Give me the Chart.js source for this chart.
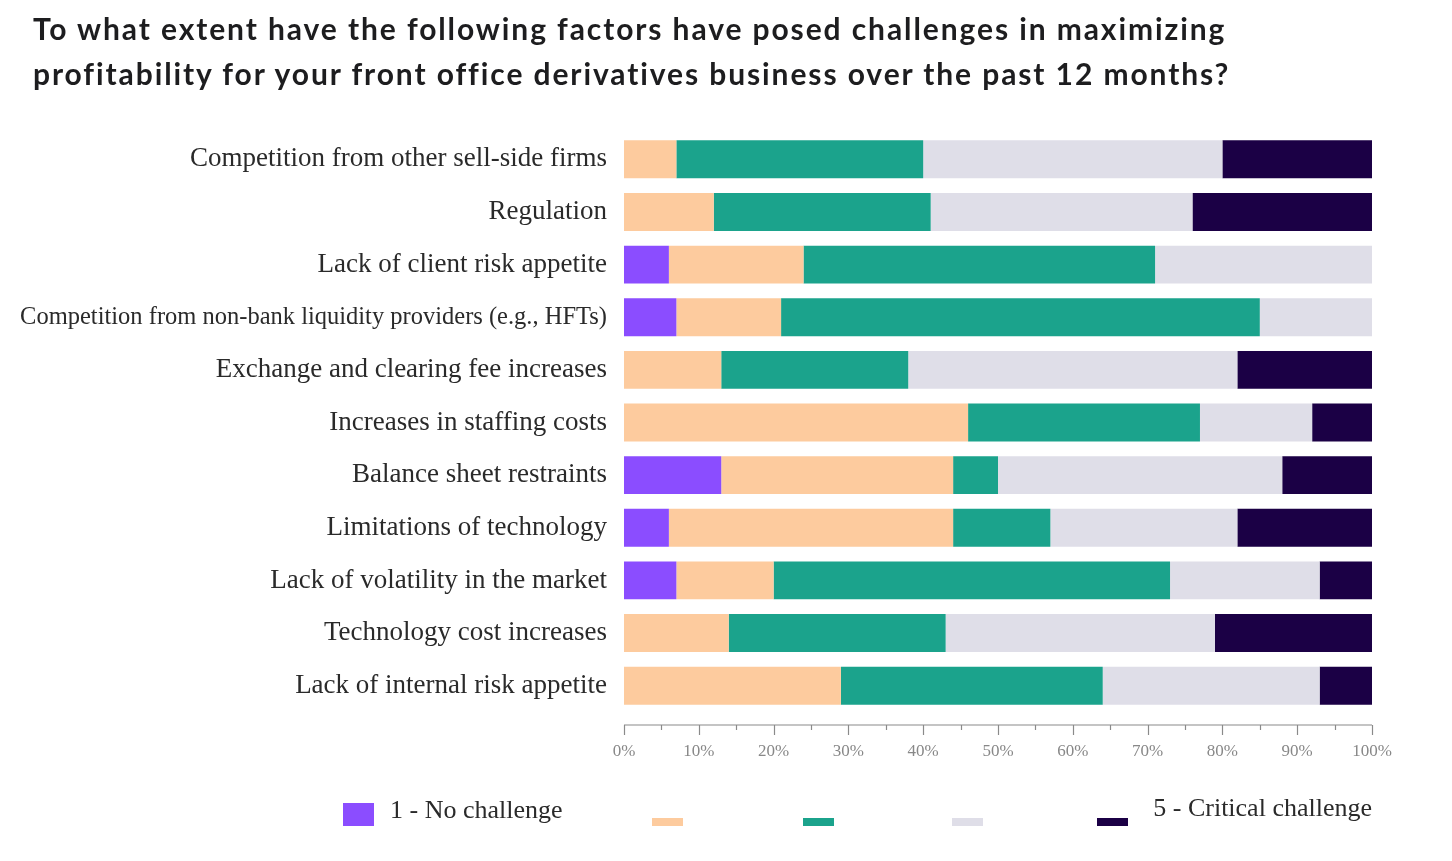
<!DOCTYPE html>
<html>
<head>
<meta charset="utf-8">
<script src="https://cdn.jsdelivr.net/npm/chart.js@4.4.1/dist/chart.umd.min.js"></script>
<style>
  html, body { margin:0; padding:0; background:#fff; }
  #wrap { position:relative; width:1452px; height:861px; overflow:hidden; }
  #title { position:absolute; left:33px; top:6px; font-family:"Lato", sans-serif; font-weight:700; font-size:30px; line-height:45px; color:#1d1d1f; letter-spacing:1.9px; white-space:nowrap; }
  #chartbox { position:absolute; left:0; top:0; width:1452px; height:861px; }
  .leg { position:absolute; font-family:"Liberation Serif", serif; font-size:26px; color:#2a2a2a; white-space:nowrap; }
  .box { position:absolute; }
</style>
</head>
<body>
<div id="wrap">
  <div id="chartbox"><canvas id="c"></canvas></div>
  <div id="title">To what extent have the following factors have posed challenges in maximizing<br>profitability for your front office derivatives business over the past 12 months?</div>
  <div id="legend"></div>
</div>
<script>
const categories = [
  "Competition from other sell-side firms",
  "Regulation",
  "Lack of client risk appetite",
  "Competition from non-bank liquidity providers (e.g., HFTs)",
  "Exchange and clearing fee increases",
  "Increases in staffing costs",
  "Balance sheet restraints",
  "Limitations of technology",
  "Lack of volatility in the market",
  "Technology cost increases",
  "Lack of internal risk appetite"
];
const seriesLabels = ["1 - No challenge", "2", "3", "4", "5 - Critical challenge"];
const noChallenge       = [0, 0, 6, 7, 0, 0, 13, 6, 7, 0, 0];
const minorChallenge    = [7, 12, 18, 14, 13, 46, 31, 38, 13, 14, 29];
const moderateChallenge = [33, 29, 47, 64, 25, 31, 6, 13, 53, 29, 35];
const majorChallenge    = [40, 35, 29, 15, 44, 15, 38, 25, 20, 36, 29];
const criticalChallenge = [20, 24, 0, 0, 18, 8, 12, 18, 7, 21, 7];
const xTicks = [0, 10, 20, 30, 40, 50, 60, 70, 80, 90, 100];
const colors = ["#8B4DFF", "#FDCB9E", "#1BA38C", "#DFDEE8", "#1B0045"];

const values = [noChallenge, minorChallenge, moderateChallenge, majorChallenge, criticalChallenge];
const datasets = values.map((v, i) => ({
  label: seriesLabels[i], data: v, backgroundColor: colors[i],
  borderWidth: 0, barPercentage: 0.72, categoryPercentage: 1.0
}));

const axisPlugin = {
  id: 'axisLine',
  afterDraw(chart) {
    const ctx = chart.ctx, xs = chart.scales.x, y = chart.chartArea.bottom + 13;
    ctx.save();
    ctx.strokeStyle = '#8a8a8a'; ctx.lineWidth = 1.2;
    ctx.beginPath(); ctx.moveTo(xs.getPixelForValue(0), y); ctx.lineTo(xs.getPixelForValue(100), y); ctx.stroke();
    for (let v = 0; v <= 100; v += 5) {
      const px = Math.round(xs.getPixelForValue(v)) + 0.5;
      ctx.beginPath(); ctx.moveTo(px, y); ctx.lineTo(px, y + (v % 10 === 0 ? 10 : 5)); ctx.stroke();
    }
    ctx.restore();
  }
};

new Chart(document.getElementById('c'), {
  type: 'bar',
  data: { labels: categories, datasets },
  plugins: [axisPlugin],
  options: {
    indexAxis: 'y',
    responsive: true, maintainAspectRatio: false, animation: false,
    layout: { padding: { top: 133, right: 80, bottom: 99, left: 0 } },
    plugins: { legend: { display: false }, tooltip: { enabled: false } },
    scales: {
      x: {
        stacked: true, min: 0, max: 100,
        afterBuildTicks(s) { s.ticks = xTicks.map(v => ({ value: v })); },
        afterFit(s) { s.height = 50; },
        grid: { display: false, drawTicks: false }, border: { display: false },
        ticks: { padding: 29, color: '#888888', font: { family: 'Liberation Serif', size: 17 }, callback: v => v + '%', maxRotation: 0 }
      },
      y: {
        stacked: true,
        afterFit(s) { s.width = 624; },
        grid: { display: false, drawTicks: false }, border: { display: false },
        ticks: {
          padding: 17, color: '#2a2a2a',
          font: (ctx) => ({ family: 'Liberation Serif', size: ctx.index === 3 ? 24.5 : 27 })
        }
      }
    }
  }
});

// legend (HTML), built from series labels and colours
const leg = document.getElementById('legend');
const boxX = [343, 652, 803, 952, 1097];
seriesLabels.forEach((lab, i) => {
  const b = document.createElement('div');
  b.className = 'box';
  b.style.left = boxX[i] + 'px';
  b.style.width = '31px';
  if (i === 0) { b.style.top = '803px'; b.style.height = '23px'; }
  else { b.style.top = '818px'; b.style.height = '8px'; }
  b.style.background = colors[i];
  leg.appendChild(b);
});
const t1 = document.createElement('div'); t1.className = 'leg';
t1.style.left = '390px'; t1.style.top = '795px'; t1.textContent = seriesLabels[0]; leg.appendChild(t1);
const t5 = document.createElement('div'); t5.className = 'leg';
t5.style.right = (1452 - 1372) + 'px'; t5.style.top = '793px'; t5.textContent = seriesLabels[4]; leg.appendChild(t5);
</script>
</body>
</html>
